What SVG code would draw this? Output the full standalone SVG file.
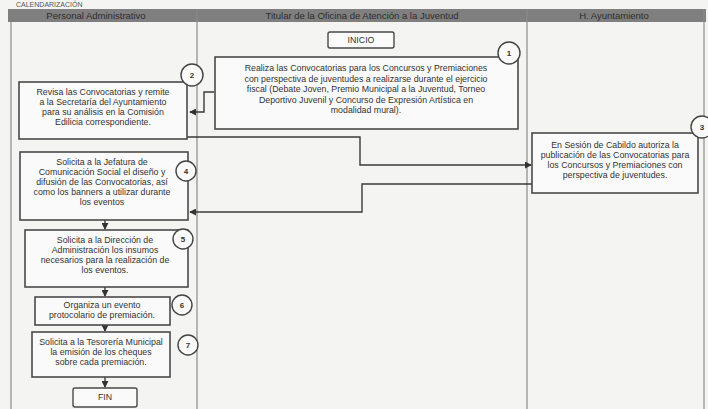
<svg xmlns="http://www.w3.org/2000/svg" width="708" height="409" viewBox="0 0 708 409">
<defs>
<style>
.lane{fill:none;stroke:#8a8a8a;stroke-width:1.2}
.box{fill:#fafafa;stroke:#4a4a4a;stroke-width:1.6}
.term{fill:#fafafa;stroke:#4a4a4a;stroke-width:1.4}
.num{fill:#fafafa;stroke:#444;stroke-width:1.4}
.t{font-family:"Liberation Sans",Arial,sans-serif;font-size:8.8px;fill:#333;text-anchor:middle}
.n{font-family:"Liberation Sans",Arial,sans-serif;font-size:8px;fill:#333;text-anchor:middle;font-weight:bold}
.h{font-family:"Liberation Sans",Arial,sans-serif;font-size:9.5px;fill:#2e2e2e;text-anchor:middle}
.c{fill:none;stroke:#3a3a3a;stroke-width:1.4}
</style>
<marker id="ah" viewBox="0 0 8 8" refX="7" refY="4" markerWidth="5" markerHeight="5" orient="auto">
<path d="M0,0 L8,4 L0,8 z" fill="#333"/>
</marker>
</defs>
<rect x="0" y="0" width="708" height="409" fill="#f4f4f2"/>
<text x="16" y="7" font-family="Liberation Sans, Arial, sans-serif" font-size="7px" fill="#555">CALENDARIZACIÓN</text>
<g id="header">
<rect x="8" y="9" width="698" height="13" fill="#7f7f7f"/>
<text class="h" x="96" y="19">Personal Administrativo</text>
<text class="h" x="362" y="19">Titular de la Oficina de Atención a la Juventud</text>
<text class="h" x="614" y="19">H. Ayuntamiento</text>
</g>
<g id="lanes">
<line class="lane" x1="11" y1="22" x2="11" y2="409"/>
<line class="lane" x1="197" y1="9" x2="197" y2="409"/>
<line class="lane" x1="527" y1="9" x2="527" y2="409"/>
<line class="lane" x1="704" y1="9" x2="704" y2="409"/>
</g>
<g id="connectors">
<polyline class="c" points="214,92 204,92 204,112 190,112" marker-end="url(#ah)"/>
<polyline class="c" points="187,137 360,137 360,165 531,165" marker-end="url(#ah)"/>
<polyline class="c" points="532,184 362,184 362,212 190,212" marker-end="url(#ah)"/>
<line class="c" x1="105" y1="220" x2="105" y2="229" marker-end="url(#ah)"/>
<line class="c" x1="105" y1="287" x2="105" y2="296" marker-end="url(#ah)"/>
<line class="c" x1="105" y1="325" x2="105" y2="331" marker-end="url(#ah)"/>
<line class="c" x1="105" y1="377" x2="105" y2="387" marker-end="url(#ah)"/>
</g>
<g id="inicio">
<rect class="term" x="328" y="32" width="66" height="16" rx="2"/>
<text class="t" x="361" y="43">INICIO</text>
</g>
<g id="n1">
<rect class="box" x="215" y="57" width="303" height="72"/>
<text class="t" x="366" y="71">Realiza las Convocatorias para los Concursos y Premiaciones</text>
<text class="t" x="366" y="81.5">con perspectiva de juventudes a realizarse durante el ejercicio</text>
<text class="t" x="366" y="92">fiscal (Debate Joven, Premio Municipal a la Juventud, Torneo</text>
<text class="t" x="366" y="102.5">Deportivo Juvenil y Concurso de Expresión Artística en</text>
<text class="t" x="366" y="113">modalidad mural).</text>
<circle class="num" cx="509" cy="53" r="11"/>
<text class="n" x="509" y="56">1</text>
</g>
<g id="n2">
<rect class="box" x="19" y="82" width="168" height="57"/>
<text class="t" x="103" y="95">Revisa las Convocatorias y remite</text>
<text class="t" x="103" y="105">a la Secretaría del Ayuntamiento</text>
<text class="t" x="103" y="115">para su análisis en la Comisión</text>
<text class="t" x="103" y="125">Edilicia correspondiente.</text>
<circle class="num" cx="192" cy="75" r="11"/>
<text class="n" x="192" y="78">2</text>
</g>
<g id="n3">
<rect class="box" x="532" y="133" width="166" height="60"/>
<text class="t" x="615" y="148">En Sesión de Cabildo autoriza la</text>
<text class="t" x="615" y="158">publicación de las Convocatorias para</text>
<text class="t" x="615" y="168">los Concursos y Premiaciones con</text>
<text class="t" x="615" y="178">perspectiva de juventudes.</text>
<circle class="num" cx="702" cy="127" r="11"/>
<text class="n" x="702" y="130">3</text>
</g>
<g id="n4">
<rect class="box" x="20" y="152" width="168" height="68"/>
<text class="t" x="102" y="165">Solicita a la Jefatura de</text>
<text class="t" x="102" y="175">Comunicación Social el diseño y</text>
<text class="t" x="102" y="185">difusión de las Convocatorias, así</text>
<text class="t" x="102" y="195">como los banners a utilizar durante</text>
<text class="t" x="102" y="205">los eventos</text>
<circle class="num" cx="186" cy="171" r="10"/>
<text class="n" x="186" y="174">4</text>
</g>
<g id="n5">
<rect class="box" x="25" y="230" width="163" height="57"/>
<text class="t" x="105" y="243">Solicita a la Dirección de</text>
<text class="t" x="105" y="253">Administración los insumos</text>
<text class="t" x="105" y="263">necesarios para la realización de</text>
<text class="t" x="105" y="273">los eventos.</text>
<circle class="num" cx="183" cy="239" r="10"/>
<text class="n" x="183" y="242">5</text>
</g>
<g id="n6">
<rect class="box" x="35" y="297" width="135" height="28"/>
<text class="t" x="102" y="308">Organiza un evento</text>
<text class="t" x="102" y="318">protocolario de premiación.</text>
<circle class="num" cx="182" cy="305" r="10"/>
<text class="n" x="182" y="308">6</text>
</g>
<g id="n7">
<rect class="box" x="32" y="332" width="138" height="45"/>
<text class="t" x="101" y="345">Solicita a la Tesorería Municipal</text>
<text class="t" x="101" y="355">la emisión de los cheques</text>
<text class="t" x="101" y="365">sobre cada premiación.</text>
<circle class="num" cx="188" cy="345" r="10"/>
<text class="n" x="188" y="348">7</text>
</g>
<g id="fin">
<rect class="term" x="73" y="388" width="64" height="19" rx="2"/>
<text class="t" x="105" y="400">FIN</text>
</g>
</svg>
